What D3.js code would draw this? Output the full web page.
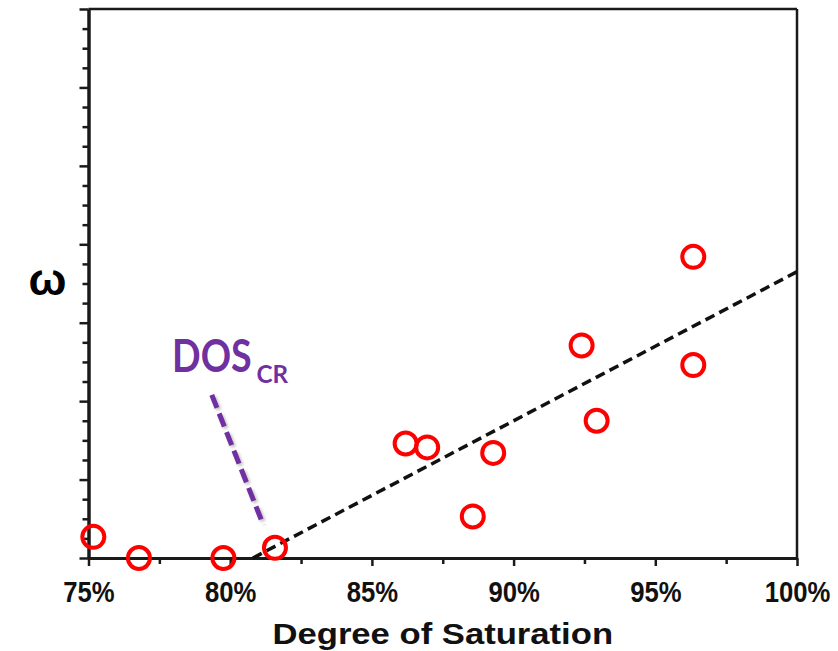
<!DOCTYPE html>
<html>
<head>
<meta charset="utf-8">
<script src="https://cdn.jsdelivr.net/npm/d3@7"></script>
<style>
  html, body { margin: 0; padding: 0; background: #fff; }
  svg { display: block; }
</style>
</head>
<body>
<svg id="chart" width="838" height="651"></svg>
<script>
// ---- data ----
const dosValues   = [75.17, 76.78, 79.76, 81.58, 86.19, 86.95, 89.28, 88.56, 92.40, 92.93, 96.34, 96.34];
const omegaValues = [0.27, 0.00, 0.00, 0.13, 1.46, 1.41, 1.34, 0.53, 2.71, 1.75, 3.84, 2.46];
const trendX = [80.8, 100];
const trendY = [0, 3.65];
const xTicks = [75, 80, 85, 90, 95, 100];
const xMinorTicks = [77.5, 82.5, 87.5, 92.5, 97.5];
const yMajorTicks = [0, 1, 2, 3, 4, 5, 6, 7];
const yMinorTicks = d3.range(0, 7.001, 0.25).filter(v => Math.abs(v - Math.round(v)) > 1e-6);
const criticalPointer = { x: [79.35, 81.17], y: [2.08, 0.42] };
const criticalLabel = { x: 77.95, y: 2.37, main: "DOS", sub: "CR" };
const xTitle = "Degree of Saturation";
const yTitle = "ω";

// ---- layout ----
const W = 838, H = 651;
const margin = { left: 88.5, right: 41, top: 9, bottom: 93 };
const svg = d3.select("#chart");

const x = d3.scaleLinear().domain([75, 100]).range([margin.left, W - margin.right]);
const y = d3.scaleLinear().domain([0, 7]).range([H - margin.bottom, margin.top]);

const axisColor = "#1a1a1a";
const fontFam = "'Liberation Sans', Arial, Helvetica, sans-serif";

// frame (top and right)
svg.append("line")
  .attr("x1", x(75)).attr("x2", x(100)).attr("y1", y(7)).attr("y2", y(7))
  .attr("stroke", axisColor).attr("stroke-width", 2.5);
svg.append("line")
  .attr("x1", x(100)).attr("x2", x(100)).attr("y1", y(7)).attr("y2", y(0))
  .attr("stroke", axisColor).attr("stroke-width", 2.5);

// y axis minor
const gyMinor = svg.append("g").attr("transform", `translate(${x(75)},0)`)
  .call(d3.axisLeft(y).tickValues(yMinorTicks).tickSize(6).tickSizeOuter(0).tickFormat(""));
// y axis major
const gyMajor = svg.append("g").attr("transform", `translate(${x(75)},0)`)
  .call(d3.axisLeft(y).tickValues(yMajorTicks).tickSize(9).tickSizeOuter(0).tickFormat(""));

// x axis minor
const gxMinor = svg.append("g").attr("transform", `translate(0,${y(0)})`)
  .call(d3.axisBottom(x).tickValues(xMinorTicks).tickSize(6).tickSizeOuter(0).tickFormat(""));
// x axis major
const gxMajor = svg.append("g").attr("transform", `translate(0,${y(0)})`)
  .call(d3.axisBottom(x).tickValues(xTicks).tickSize(8).tickSizeOuter(0).tickFormat(d => d + "%"));

[gyMinor, gyMajor, gxMinor, gxMajor].forEach(g => {
  g.select(".domain").attr("stroke", axisColor).attr("stroke-width", 3);
  g.selectAll(".tick line").attr("stroke", axisColor).attr("stroke-width", 2.5);
});

gxMajor.selectAll(".tick text")
  .attr("y", 0)
  .attr("dy", 0)
  .attr("transform", "translate(0,44) scale(0.87,1)")
  .attr("fill", "#111")
  .style("font-family", fontFam)
  .style("font-weight", "bold")
  .style("font-size", "29.5px");

// axis titles
const cx = (x(75) + x(100)) / 2;
svg.append("text")
  .attr("transform", `translate(${cx},643.5) scale(1.155,1)`)
  .attr("text-anchor", "middle")
  .style("font-family", fontFam)
  .style("font-weight", "bold")
  .style("font-size", "30px")
  .attr("fill", "#111")
  .text(xTitle);

svg.append("text")
  .attr("x", 47.5)
  .attr("y", (y(0) + y(7)) / 2 + 11)
  .attr("text-anchor", "middle")
  .attr("textLength", 38)
  .attr("lengthAdjust", "spacingAndGlyphs")
  .style("font-family", fontFam)
  .style("font-weight", "bold")
  .style("font-size", "44px")
  .attr("fill", "#000")
  .text(yTitle);

// trend line
svg.append("line")
  .attr("x1", x(trendX[0])).attr("y1", y(trendY[0]))
  .attr("x2", x(trendX[1])).attr("y2", y(trendY[1]))
  .attr("stroke", "#111")
  .attr("stroke-width", 3.5)
  .attr("stroke-dasharray", "10,5.5");

// critical pointer with shadow
const defs = svg.append("defs");
const f = defs.append("filter").attr("id", "shadow").attr("x", "-50%").attr("y", "-20%").attr("width", "200%").attr("height", "140%");
f.append("feGaussianBlur").attr("stdDeviation", 1.6);

svg.append("line")
  .attr("x1", x(criticalPointer.x[0]) + 2).attr("y1", y(criticalPointer.y[0]) + 2)
  .attr("x2", x(criticalPointer.x[1]) + 2).attr("y2", y(criticalPointer.y[1]) + 2)
  .attr("stroke", "#999")
  .attr("stroke-width", 5)
  .attr("stroke-dasharray", "14,6")
  .attr("opacity", 0.6)
  .attr("filter", "url(#shadow)");
svg.append("line")
  .attr("x1", x(criticalPointer.x[0])).attr("y1", y(criticalPointer.y[0]))
  .attr("x2", x(criticalPointer.x[1])).attr("y2", y(criticalPointer.y[1]))
  .attr("stroke", "#7030A0")
  .attr("stroke-width", 5)
  .attr("stroke-dasharray", "14,6");

// DOS_CR label
const labFont = "Lato, 'Open Sans', Calibri, sans-serif";
svg.append("text")
  .attr("x", x(criticalLabel.x))
  .attr("y", y(criticalLabel.y))
  .attr("textLength", 79.6)
  .attr("lengthAdjust", "spacingAndGlyphs")
  .style("font-family", labFont)
  .style("font-weight", "bold")
  .style("font-size", "46px")
  .attr("fill", "#7030A0")
  .text(criticalLabel.main);
svg.append("text")
  .attr("x", x(criticalLabel.x) + 84.5)
  .attr("y", y(criticalLabel.y) + 11)
  .attr("textLength", 31.6)
  .attr("lengthAdjust", "spacingAndGlyphs")
  .style("font-family", labFont)
  .style("font-weight", "bold")
  .style("font-size", "25px")
  .attr("fill", "#7030A0")
  .text(criticalLabel.sub);

// points
svg.append("g").selectAll("circle")
  .data(dosValues.map((d, i) => ({ x: d, y: omegaValues[i] })))
  .join("circle")
  .attr("cx", d => x(d.x))
  .attr("cy", d => y(d.y))
  .attr("r", 11)
  .attr("fill", "none")
  .attr("stroke", "#ff0000")
  .attr("stroke-width", 4);
</script>
</body>
</html>
